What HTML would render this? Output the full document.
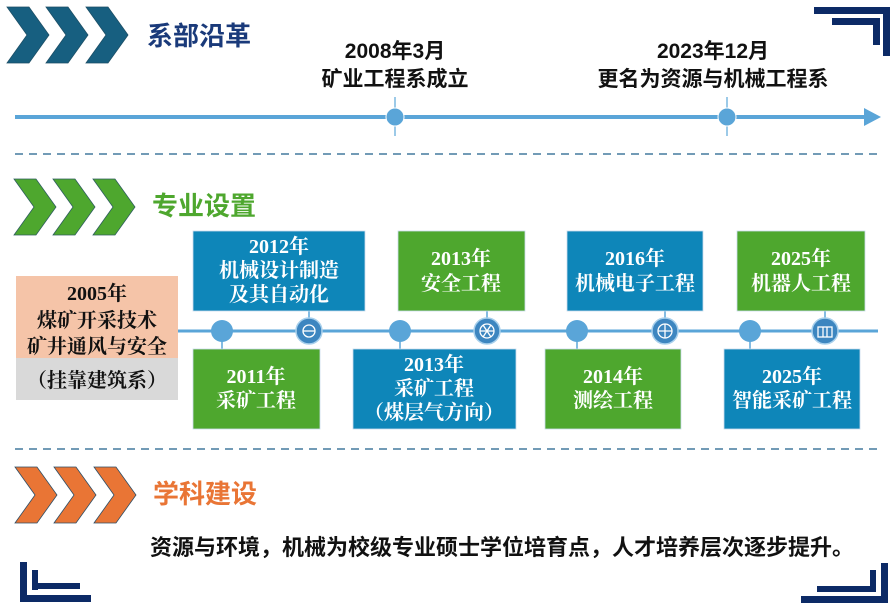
<!DOCTYPE html>
<html><head><meta charset="utf-8"><style>
html,body{margin:0;padding:0;background:#fff;}
svg{display:block;}
.s{font-family:"Liberation Sans","Noto Sans CJK SC",sans-serif;}
.b{font-family:"Liberation Serif","Noto Serif CJK SC",serif;font-weight:bold;fill:#fff;font-size:20px;}
.k{font-family:"Liberation Serif","Noto Serif CJK SC",serif;font-weight:bold;fill:#111;font-size:20px;}
</style></head><body>
<svg width="895" height="610" viewBox="0 0 895 610" xmlns="http://www.w3.org/2000/svg">
<g fill="#0c2a66">
<rect x="814" y="7" width="76" height="7"/><rect x="883" y="7" width="7" height="49"/>
<rect x="832" y="18" width="48" height="7"/><rect x="873" y="18" width="7" height="27"/>
<rect x="20" y="562" width="7" height="40"/><rect x="20" y="595" width="71" height="7"/>
<rect x="32" y="570" width="6" height="20"/><rect x="32" y="583" width="48" height="6"/>
<rect x="881" y="563" width="7" height="40"/><rect x="801" y="596" width="87" height="7"/>
<rect x="870" y="570" width="6" height="22"/><rect x="817" y="586" width="59" height="6"/>
</g>
<defs>
<path id="ch" d="M0,0 H22 L42,28 L22,56 H0 L20,28 Z"/>
</defs>
<g fill="#175f80" stroke="#1d4f66" stroke-width="0.8">
<use href="#ch" x="7" y="7"/><use href="#ch" x="46" y="7"/><use href="#ch" x="86" y="7"/>
</g>
<g fill="#4ea72e" stroke="#2e5e5e" stroke-width="0.8">
<use href="#ch" x="14" y="179"/><use href="#ch" x="53" y="179"/><use href="#ch" x="93" y="179"/>
</g>
<g fill="#e97535" stroke="#2e4e66" stroke-width="0.8">
<use href="#ch" x="15" y="467"/><use href="#ch" x="54" y="467"/><use href="#ch" x="94" y="467"/>
</g>
<text class="s" x="147" y="45" font-size="26" font-weight="bold" fill="#1a3a7a">系部沿革</text>
<text class="s" x="152" y="215" font-size="26" font-weight="bold" fill="#4ea72e">专业设置</text>
<text class="s" x="153" y="503" font-size="26" font-weight="bold" fill="#e97535">学科建设</text>
<line x1="15" y1="117" x2="866" y2="117" stroke="#5aa5d8" stroke-width="4"/>
<polygon points="864,108 881,117 864,126" fill="#5aa5d8"/>
<line x1="395" y1="97" x2="395" y2="136" stroke="#7ab8e0" stroke-width="1.5"/>
<line x1="727" y1="97" x2="727" y2="136" stroke="#7ab8e0" stroke-width="1.5"/>
<circle cx="395" cy="117" r="9" fill="#5aa5d8" stroke="#fff" stroke-width="1"/>
<circle cx="727" cy="117" r="9" fill="#5aa5d8" stroke="#fff" stroke-width="1"/>
<g class="s" font-size="21" fill="#111" text-anchor="middle" font-weight="bold">
<text x="395" y="58">2008年3月</text><text x="395" y="86">矿业工程系成立</text>
<text x="713" y="58">2023年12月</text><text x="713" y="86">更名为资源与机械工程系</text>
</g>
<line x1="15" y1="154" x2="880" y2="154" stroke="#1f5f8a" stroke-width="1.2" stroke-dasharray="8,6"/>
<line x1="15" y1="449" x2="880" y2="449" stroke="#1f5f8a" stroke-width="1.2" stroke-dasharray="8,6"/>
<line x1="178" y1="331" x2="878" y2="331" stroke="#5aa5d8" stroke-width="3"/>
<g stroke="#5aa5d8" stroke-width="1.5">
<line x1="222" y1="331" x2="222" y2="349"/><line x1="309" y1="311" x2="309" y2="331"/>
<line x1="400" y1="331" x2="400" y2="349"/><line x1="487" y1="311" x2="487" y2="331"/>
<line x1="577" y1="331" x2="577" y2="349"/><line x1="665" y1="311" x2="665" y2="331"/>
<line x1="750" y1="331" x2="750" y2="349"/><line x1="825" y1="311" x2="825" y2="331"/>
</g>
<g fill="#5aa5d8">
<circle cx="222" cy="331" r="11"/><circle cx="400" cy="331" r="11"/><circle cx="577" cy="331" r="11"/><circle cx="750" cy="331" r="11"/>
</g>
<g fill="#3d86c0" stroke="#a8d0ec" stroke-width="1.5">
<circle cx="309" cy="331" r="13"/><circle cx="487" cy="331" r="13"/><circle cx="665" cy="331" r="13"/><circle cx="825" cy="331" r="13"/>
</g>
<g fill="none" stroke="#fff" stroke-width="1.3">
<circle cx="309" cy="331" r="6"/><line x1="303" y1="331" x2="315" y2="331"/>
<circle cx="487" cy="331" r="7"/><path d="M480,331 H494 M483,325 L491,337 M491,325 L483,337"/>
<circle cx="665" cy="331" r="7"/><path d="M658,331 H672 M665,324 V338"/>
<rect x="818" y="327" width="14" height="10"/><path d="M823,327 V337 M827,327 V337"/>
</g>
<rect x="16" y="276" width="162" height="82" fill="#f5c4a8"/>
<rect x="16" y="358" width="162" height="42" fill="#d9d9d9"/>
<g class="k" text-anchor="middle">
<text x="97" y="300">2005年</text><text x="97" y="327">煤矿开采技术</text><text x="97" y="353">矿井通风与安全</text><text x="97" y="387">（挂靠建筑系）</text>
</g>
<g stroke="#cde" stroke-width="0.8">
<rect x="193" y="231" width="172" height="80" fill="#0e86b9"/>
<rect x="398" y="231" width="127" height="80" fill="#4ea72e"/>
<rect x="567" y="231" width="136" height="80" fill="#0e86b9"/>
<rect x="737" y="231" width="128" height="80" fill="#4ea72e"/>
<rect x="193" y="349" width="127" height="80" fill="#4ea72e"/>
<rect x="353" y="349" width="163" height="80" fill="#0e86b9"/>
<rect x="545" y="349" width="136" height="80" fill="#4ea72e"/>
<rect x="724" y="349" width="136" height="80" fill="#0e86b9"/>
</g>
<g class="b" text-anchor="middle">
<text x="279" y="253">2012年</text><text x="279" y="277">机械设计制造</text><text x="279" y="301">及其自动化</text>
<text x="461" y="265">2013年</text><text x="461" y="290">安全工程</text>
<text x="635" y="265">2016年</text><text x="635" y="290">机械电子工程</text>
<text x="801" y="265">2025年</text><text x="801" y="290">机器人工程</text>
<text x="256" y="383">2011年</text><text x="256" y="407">采矿工程</text>
<text x="434" y="371">2013年</text><text x="434" y="395">采矿工程</text><text x="434" y="419">（煤层气方向）</text>
<text x="613" y="383">2014年</text><text x="613" y="407">测绘工程</text>
<text x="792" y="383">2025年</text><text x="792" y="407">智能采矿工程</text>
</g>
<text class="s" x="150" y="555" font-size="22" font-weight="bold" fill="#111">资源与环境，机械为校级专业硕士学位培育点，人才培养层次逐步提升。</text>
</svg>
</body></html>
